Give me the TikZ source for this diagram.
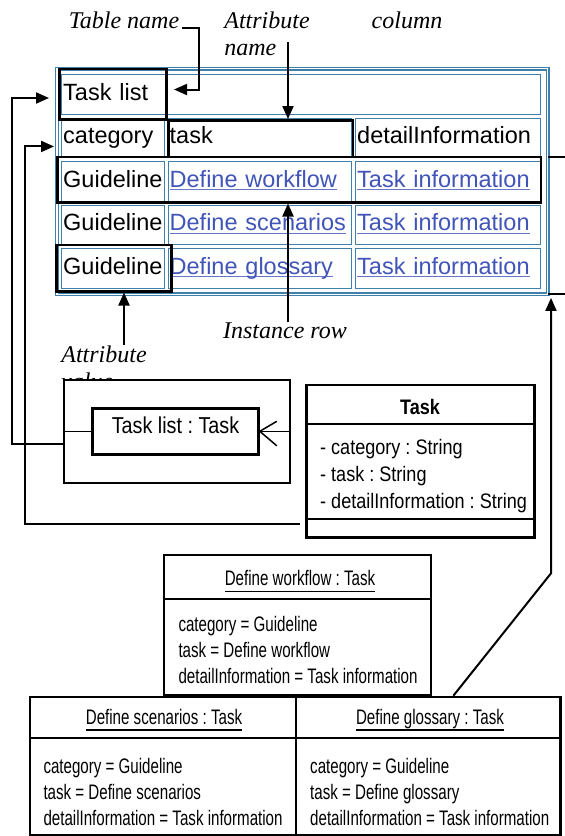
\documentclass[tikz,border=0pt]{standalone}
\usepackage{fontspec}
\setmainfont{Liberation Serif}
\newfontfamily\cellfont{Liberation Sans}
\newfontfamily\objfont[FakeStretch=0.72]{Liberation Sans}
\newfontfamily\clsfont[FakeStretch=0.86]{Liberation Sans}
\usetikzlibrary{arrows.meta,calc}
\definecolor{gridblue}{RGB}{62,128,170}
\definecolor{linkblue}{RGB}{65,85,185}
\newcommand{\ulink}[1]{\setbox0\hbox{#1}\rlap{\color{linkblue!80}\rule[-3pt]{\wd0}{1.3pt}}\box0}
\newcommand{\uname}[1]{\setbox0\hbox{#1}\rlap{\rule[-6.5pt]{\wd0}{1.5pt}}\box0}
\frenchspacing

\tikzset{
  lbl/.style={font=\itshape\fontsize{24}{27}\selectfont, inner sep=1pt, align=left},
  cell/.style={draw=gridblue, line width=1.4pt, anchor=north west, minimum height=39.5pt,
    inner xsep=1.5pt, inner ysep=2pt, text width=#1, align=left, text height=17pt, text depth=5pt,
    font=\cellfont\fontsize{23.5}{26}\selectfont},
  link/.style={text=linkblue},
  hilite/.style={draw, line width=2.5pt, anchor=north west, inner sep=0pt},
  conn/.style={line width=2pt, -{Triangle[length=13pt,width=11pt]}},
  objbox/.style={draw, line width=2.5pt, inner sep=0pt},
  objtxt/.style={font=\objfont\fontsize{21}{26}\selectfont, inner sep=0pt, align=left},
  clstxt/.style={font=\clsfont\fontsize{21}{27}\selectfont, inner sep=0pt, align=left},
}

\begin{document}
\begin{tikzpicture}[x=1pt, y=-1pt]
   \useasboundingbox (0,0) rectangle (565,836);
   \fill[white] (0,0) rectangle (565,836);

   % the table
   \node[draw=gridblue, line width=1.3pt, double=white, double distance=1.4pt, anchor=north west,
     minimum width=490.6pt, minimum height=225.6pt, inner sep=0pt] (tbl) at (56.4,68) {};
   \node[cell=476pt] (tl) at (61,74) {Task list};
   \node[cell=99.5pt] (c1) at (61,117.5) {category};
   \node[cell=180.5pt] (c2) at (167.5,117.5) {task};
   \node[cell=182pt] (c3) at (355,117.5) {detailInformation};
   \node[cell=99.5pt] (r1a) at (61,161) {Guideline};
   \node[cell=180.5pt, link] (r1b) at (167.5,161) {\ulink{Define workflow}};
   \node[cell=182pt, link] (r1c) at (355,161) {\ulink{Task information}};
   \node[cell=99.5pt] (r2a) at (61,204.5) {Guideline};
   \node[cell=180.5pt, link] (r2b) at (167.5,204.5) {\ulink{Define scenarios}};
   \node[cell=182pt, link] (r2c) at (355,204.5) {\ulink{Task information}};
   \node[cell=99.5pt] (r3a) at (61,248) {Guideline};
   \node[cell=180.5pt, link] (r3b) at (167.5,248) {\ulink{Define glossary}};
   \node[cell=182pt, link] (r3c) at (355,248) {\ulink{Task information}};

   \node[hilite, minimum width=107pt, minimum height=50.5pt] (tlbox) at (58,67.5) {};
   \node[hilite, minimum width=184.5pt, minimum height=36.5pt] (tbox) at (167,119) {};
   \node[hilite, minimum width=483.5pt, minimum height=45.5pt] (rbox) at (56,155.5) {};
   \node[hilite, minimum width=115pt, minimum height=46.5pt] (gbox) at (55,243.5) {};

   % labels
   \node[lbl] (tname) at (124,20) {Table name};
   \node[lbl] (aname) at (267,34) {Attribute\\name};
   \node[lbl] (colname) at (407,20) {column};
   \node[lbl] (irow) at (285,331) {Instance row};
   \node[lbl] (aval) at (104,368) {Attribute\\value};

   % class diagram side
   \node[draw, line width=1.5pt, fill=white, anchor=north west, minimum width=226pt,
     minimum height=103pt, inner sep=0pt] (pkg) at (63.3,379.3) {};
   \node[draw, line width=3pt, minimum width=165.6pt, minimum height=46pt, text height=16.5pt,
     text depth=12pt, font=\clsfont\fontsize{23}{26}\selectfont] (tlt) at (175.5,431.3) {Task list : Task};
   \draw[line width=1.5pt] (pkg.west |- tlt.west) -- (tlt.west);
   \draw[line width=1.5pt] (tlt.east) -- (pkg.east |- tlt.east);
   \draw[line width=1.5pt] ([xshift=17pt,yshift=10pt]tlt.east) -- (tlt.east) -- ([xshift=17pt,yshift=-14.5pt]tlt.east);

   \node[objbox, minimum width=227.6pt, minimum height=152.3pt] (cls) at (420.5,461.2) {};
   \draw[line width=1.5pt] ($(cls.north west)+(0,40)$) -- ($(cls.north east)+(0,40)$);
   \draw[line width=1.5pt] ($(cls.south west)+(0,-19.6)$) -- ($(cls.south east)+(0,-19.6)$);
   \node[clstxt, font=\clsfont\bfseries\fontsize{21}{26}\selectfont] (clsname) at (420,407.3) {Task};
   \node[clstxt, anchor=west] (clsattr) at (320,476.5) {- category : String\\- task : String\\- detailInformation : String};

   % object boxes
   \node[objbox, minimum width=267pt, minimum height=140pt] (wf) at (297.5,625) {};
   \draw[line width=1.5pt] ($(wf.north west)+(0,45)$) -- ($(wf.north east)+(0,45)$);
   \node[objtxt, anchor=base] (wftitle) at (300,585.8) {\uname{Define workflow : Task}};
   \node[objtxt, anchor=west] (wfattr) at (178.3,650) {category = Guideline\\task = Define workflow\\detailInformation = Task information};

   \node[objbox, minimum width=266pt, minimum height=138pt] (sc) at (163,766) {};
   \draw[line width=1.5pt] ($(sc.north west)+(0,42.3)$) -- ($(sc.north east)+(0,42.3)$);
   \node[objtxt, anchor=base] (sctitle) at (164,724.2) {\uname{Define scenarios : Task}};
   \node[objtxt, anchor=west] (scattr) at (43.3,791.7) {category = Guideline\\task = Define scenarios\\detailInformation = Task information};

   \node[objbox, minimum width=264.7pt, minimum height=138pt] (gl) at (428.35,766) {};
   \draw[line width=1.5pt] ($(gl.north west)+(0,42.3)$) -- ($(gl.north east)+(0,42.3)$);
   \node[objtxt, anchor=base] (gltitle) at (430,724.2) {\uname{Define glossary : Task}};
   \node[objtxt, anchor=west] (glattr) at (310,791.7) {category = Guideline\\task = Define glossary\\detailInformation = Task information};

   % connectors
   \draw[conn] ([xshift=2pt]tname.base east) -| ([xshift=31pt,yshift=4.5pt]tlbox.east) -- ([xshift=6.5pt,yshift=4.5pt]tlbox.east);
   \coordinate (anx) at (288,42);
   \draw[conn] (anx) -- (anx |- tbox.north);
   \draw[conn] (irow.north -| anx) -- (anx |- rbox.south);
   \coordinate (avx) at (124,0);
   \draw[conn] (aval.north -| avx) -- (avx |- gbox.south);
   \draw[conn] ([yshift=-12pt]pkg.west) -- ++(-51.6,0) |- ([xshift=-9pt,yshift=-4pt]tlbox.west);
   \draw[conn] ([xshift=-5pt,yshift=-62.8pt]cls.west) -- ++(-275.5,0) |- ([xshift=-7pt,yshift=-8.5pt]c1.west);
   \coordinate (rk) at (551,573.3);
   \draw[conn] ([xshift=25pt]gl.north) -- (rk) -- ($(rk |- tbl.south)+(0,3)$);
   \draw[line width=2pt] ([yshift=-1.5pt]rbox.north -| tbl.east) -- ++(18,0);
   \draw[line width=2pt] ([yshift=1pt]tbl.south east) -- ++(18,0);
\end{tikzpicture}
\end{document}
